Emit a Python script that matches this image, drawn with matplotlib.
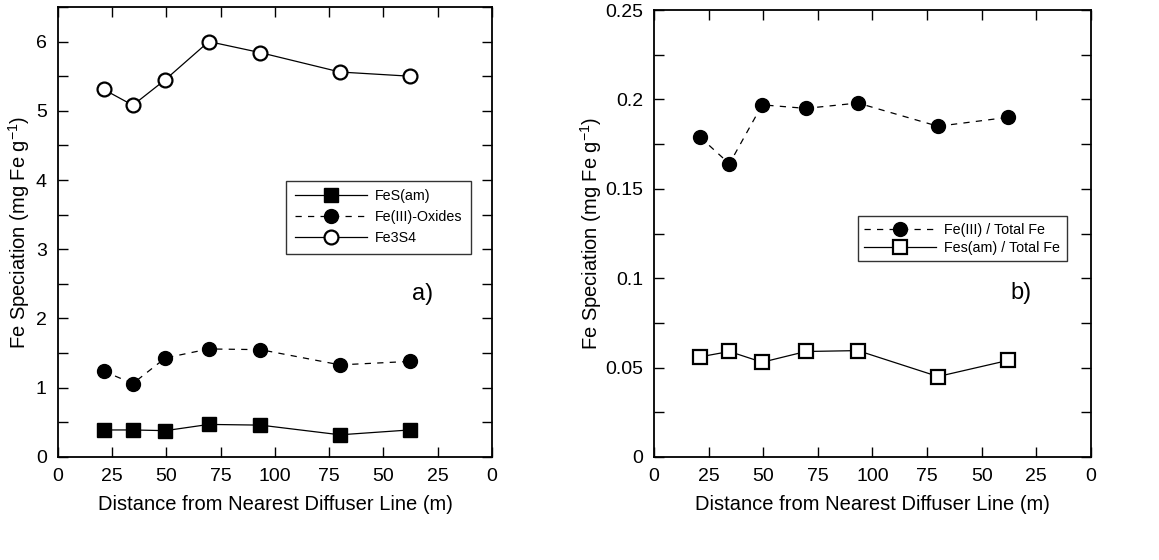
import matplotlib
matplotlib.use("Agg")
import matplotlib.pyplot as plt
from matplotlib.ticker import MultipleLocator, FixedLocator, FuncFormatter

plt.rcParams['font.family'] = ['Liberation Sans', 'DejaVu Sans']

# positions along transect (underlying axis 0..200, labels mirrored)
distance = [21, 34.5, 49.5, 69.5, 93.3, 130, 162]
tick_pos = [0, 25, 50, 75, 100, 125, 150, 175, 200]
tick_labels = ['0', '25', '50', '75', '100', '75', '50', '25', '0']

fes_am = [0.39, 0.39, 0.38, 0.47, 0.46, 0.32, 0.39]
fe3_oxides = [1.24, 1.06, 1.43, 1.56, 1.55, 1.33, 1.38]
fe3s4 = [5.31, 5.08, 5.45, 6.0, 5.84, 5.56, 5.50]

fe3_total = [0.179, 0.164, 0.197, 0.195, 0.198, 0.185, 0.190]
fes_total = [0.056, 0.059, 0.053, 0.059, 0.0595, 0.045, 0.054]

fig = plt.figure(figsize=(11.59, 5.6), dpi=100)
ax1 = fig.add_axes([0.050, 0.184, 0.3745, 0.8036])
ax2 = fig.add_axes([0.5643, 0.184, 0.377, 0.798])

ms = 10
dash = (5, 5)
ax1.plot(distance, fes_am, '-', color='black', lw=0.9, marker='s', ms=ms,
         mfc='black', mec='black', label='FeS(am)')
ax1.plot(distance, fe3_oxides, '--', color='black', lw=0.9, marker='o', ms=ms,
         mfc='black', mec='black', dashes=dash, label='Fe(III)-Oxides')
ax1.plot(distance, fe3s4, '-', color='black', lw=0.9, marker='o', ms=ms,
         mfc='white', mec='black', mew=1.6, label='Fe3S4')

ax2.plot(distance, fe3_total, '--', color='black', lw=0.9, marker='o', ms=ms,
         mfc='black', mec='black', dashes=dash, label='Fe(III) / Total Fe')
ax2.plot(distance, fes_total, '-', color='black', lw=0.9, marker='s', ms=ms,
         mfc='white', mec='black', mew=1.6, label='Fes(am) / Total Fe')

for ax in (ax1, ax2):
    ax.set_xlim(0, 200)
    ax.xaxis.set_major_locator(FixedLocator(tick_pos))
    ax.set_xticklabels(tick_labels)
    ax.tick_params(which='both', direction='in', top=True, right=True,
                   length=7, width=1, labelsize=14, pad=8)
    for s in ax.spines.values():
        s.set_linewidth(1.3)
    ax.set_xlabel('Distance from Nearest Diffuser Line (m)', fontsize=14.5, labelpad=7)
    ax.set_ylabel('Fe Speciation (mg Fe g$^{\\mathregular{-1}}$)', fontsize=14.5)

ax1.yaxis.set_label_coords(-0.06, 0.5)
ax2.yaxis.set_label_coords(-0.115, 0.5)

ax1.set_ylim(0, 6.5)
ax1.yaxis.set_major_locator(MultipleLocator(1))
ax1.yaxis.set_minor_locator(MultipleLocator(0.5))
ax1.tick_params(which='minor', length=7, width=1)

ax2.set_ylim(0, 0.25)
ax2.yaxis.set_major_locator(MultipleLocator(0.05))
ax2.yaxis.set_minor_locator(MultipleLocator(0.025))
ax2.tick_params(which='minor', length=7, width=1)
ax2.yaxis.set_major_formatter(FuncFormatter(lambda v, p: ('%g' % round(v, 3))))

ax1.text(168, 2.36, 'a)', fontsize=17, ha='center', va='center')
ax2.text(168, 0.0917, 'b)', fontsize=17, ha='center', va='center')

leg1 = ax1.legend(loc='upper left', bbox_to_anchor=(0.51, 0.63), fontsize=10.3,
                  frameon=True, fancybox=False, edgecolor='black',
                  handlelength=5, borderpad=0.6, labelspacing=0.5,
                  handletextpad=0.6)
leg1.get_frame().set_linewidth(1.0)
leg2 = ax2.legend(loc='upper left', bbox_to_anchor=(0.45, 0.555), fontsize=10.3,
                  frameon=True, fancybox=False, edgecolor='black',
                  handlelength=5, borderpad=0.45, labelspacing=0.3,
                  handletextpad=0.6)
leg2.get_frame().set_linewidth(1.0)

fig.savefig('out.png', dpi=100)
